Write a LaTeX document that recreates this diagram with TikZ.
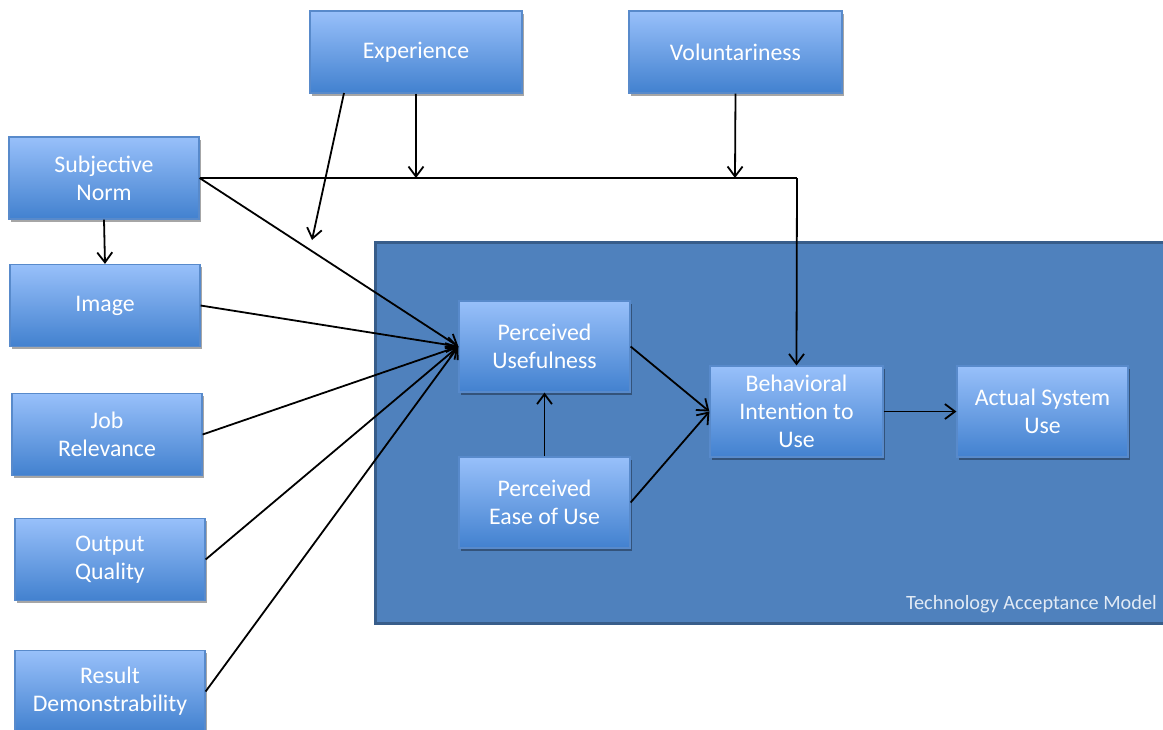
\documentclass[tikz,border=0pt]{standalone}
\usepackage{fontspec}
\setmainfont{Carlito}
\usetikzlibrary{arrows.meta,shadows}
\definecolor{boxtop}{RGB}{152,192,250}
\definecolor{boxbot}{RGB}{66,129,207}
\definecolor{boxline}{RGB}{88,138,203}
\definecolor{tamfill}{RGB}{79,129,189}
\definecolor{tamline}{RGB}{56,93,138}
\definecolor{captxt}{RGB}{225,234,245}
\tikzset{
  var/.style={draw=boxline, line width=1.2pt, top color=boxtop, bottom color=boxbot,
    minimum width=190pt, minimum height=82pt, inner sep=0pt, align=center,
    text=white, font=\fontsize{23.8}{28}\selectfont,
    drop shadow={shadow xshift=1.5pt, shadow yshift=-2.5pt, opacity=0.35, fill=black}},
  tamvar/.style={var, minimum width=171pt, minimum height=91pt},
  arr/.style={draw=black, line width=1.8pt, -{Straight Barb[length=10pt,width=15pt,line width=1.8pt]}},
  ln/.style={draw=black, line width=1.8pt}
}
\begin{document}
\begin{tikzpicture}[x=1pt,y=-1pt]
\useasboundingbox (0,0) rectangle (1163,729);
\clip (0,0) rectangle (1163,729);
% TAM frame
\draw[fill=tamfill, draw=tamline, line width=3pt] (375,242) rectangle (1175,623);
\node[anchor=south east, text=captxt, font=\fontsize{20.3}{22}\selectfont, inner sep=0pt] (cap) at (1157,613) {Technology Acceptance Model};
% external variables
\node[var, minimum width=212pt] (exp) at (416,52) {\raisebox{-2pt}{Experience}};
\node[var, minimum width=213pt] (vol) at (735.5,52) {Voluntariness};
\node[var] (sn) at (104,178) {Subjective\\Norm};
\node[var] (img) at (105,305.5) {Image};
\node[var] (job) at (107,434.5) {Job\\Relevance};
\node[var] (out) at (110,559.5) {Output\\Quality};
\node[var] (res) at (110,691.5) {Result\\Demonstrability};
% TAM core
\node[tamvar] (pu) at (544.5,346.5) {Perceived\\Usefulness};
\node[tamvar] (peou) at (544.5,502.5) {Perceived\\Ease of Use};
\node[tamvar, minimum width=173pt] (bi) at (796.5,411.5) {Behavioral\\Intention to\\Use};
\node[tamvar] (asu) at (1042.5,411.5) {Actual System\\Use};
% helper points
\coordinate (j) at (797,178);
\coordinate (e1) at (416,178);
\coordinate (v1) at (735,178);
\coordinate (exs) at (344,93);
\coordinate (exend) at (312,240);
% connectors
\draw[ln] (sn.east) -- (j);
\draw[arr] (j) -- (bi.north);
\draw[arr] (exp.south) -- (e1);
\draw[arr] (vol.south) -- (v1);
\draw[arr] (exs) -- (exend);
\draw[arr] (sn.south) -- (img.north);
\draw[arr] (sn.east) -- (pu.west);
\draw[arr] (img.east) -- (pu.west);
\draw[arr] (job.east) -- (pu.west);
\draw[arr] (out.east) -- (pu.west);
\draw[arr] (res.east) -- (pu.west);
\draw[arr] (peou.north) -- (pu.south);
\draw[arr] (pu.east) -- (bi.west);
\draw[arr] (peou.east) -- (bi.west);
\draw[arr] (bi.east) -- (asu.west);
\end{tikzpicture}
\end{document}
